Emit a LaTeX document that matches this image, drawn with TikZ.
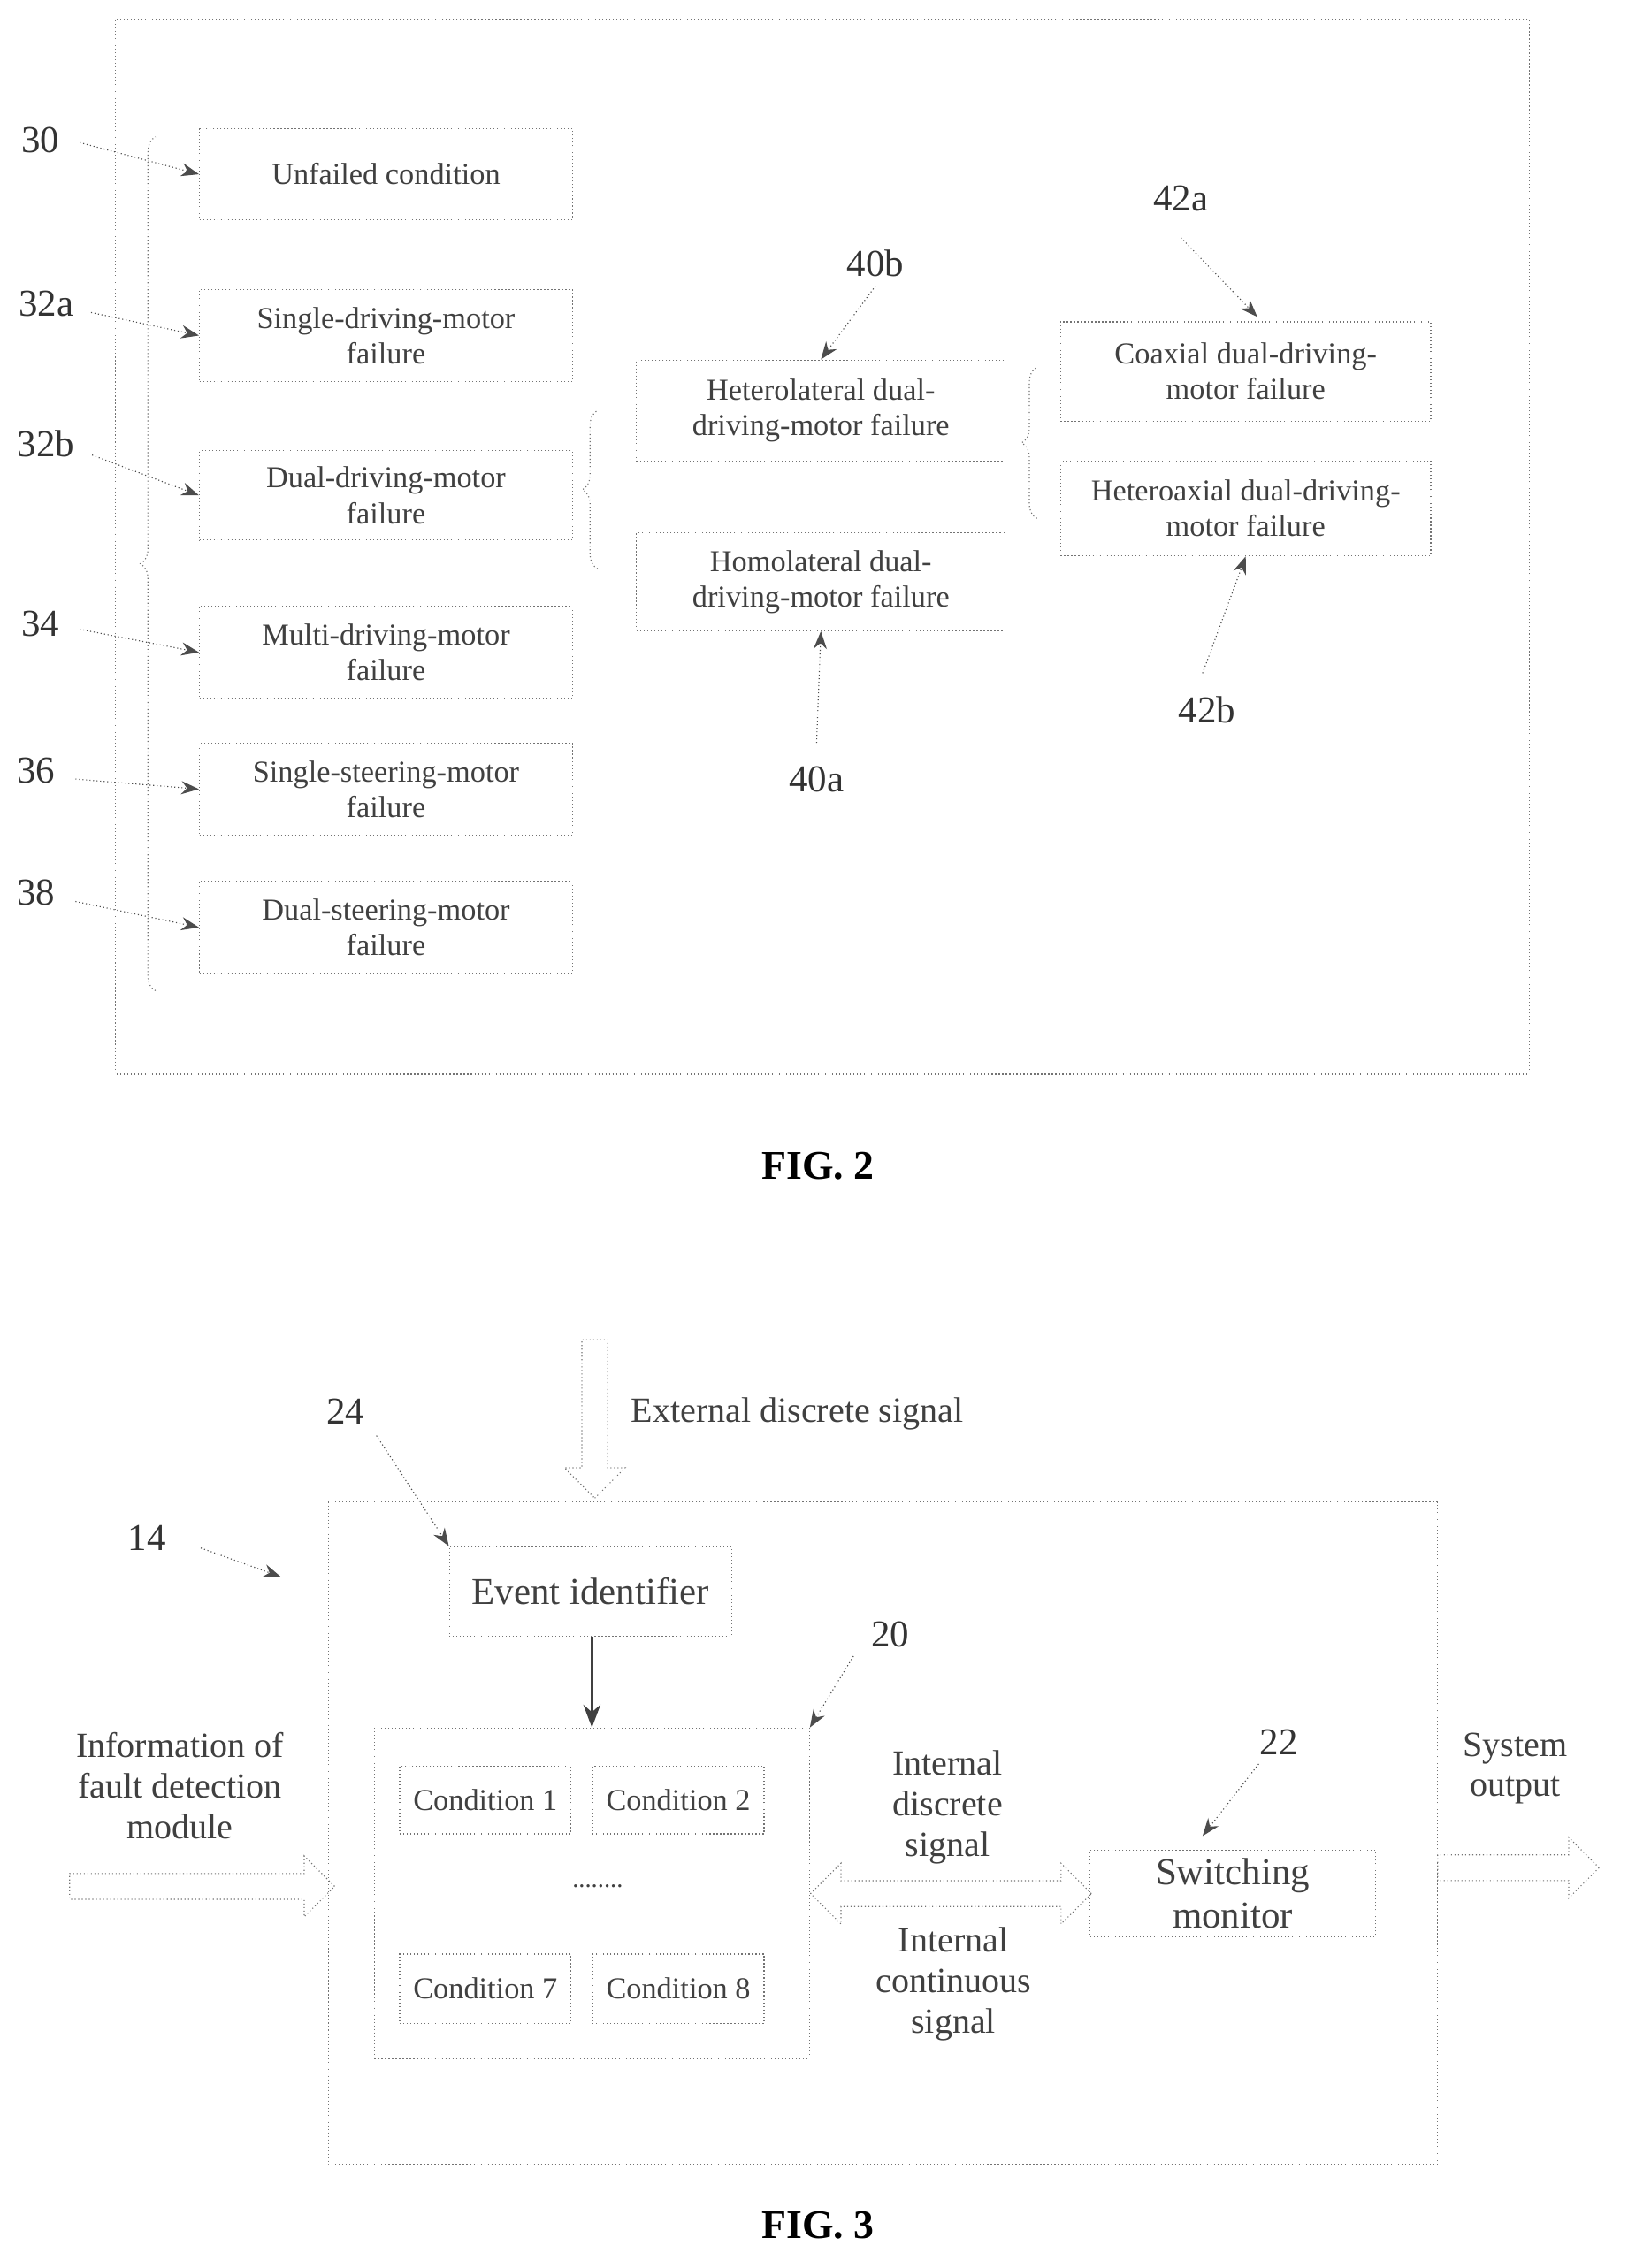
\documentclass[tikz,border=0pt]{standalone}
\usepackage{fontspec}
\setmainfont{Liberation Serif}
\usetikzlibrary{arrows.meta,decorations.pathreplacing,shapes.arrows}
\tikzset{
    box/.style = {draw=black!55, densely dotted, rectangle, align=center, text=black!75,
        font=\fontsize{12}{14}\selectfont, inner sep=0pt},
    num/.style = {font=\fontsize{15}{17}\selectfont, text=black!80},
    lead/.style = {draw=black!70, densely dotted, -{Stealth[length=7pt]}},
    brace/.style = {draw=black!55, densely dotted, decorate, decoration={brace,amplitude=6pt}},
    hollow/.style = {draw=black!55, densely dotted, single arrow, single arrow head extend=5pt,
        minimum width=24pt, inner xsep=0pt, inner ysep=3.5pt},
    label/.style = {align=center, text=black!75, font=\fontsize{14}{16}\selectfont}
}
\begin{document}
\begin{tikzpicture}[x=0.02cm,y=-0.02cm]
    \useasboundingbox (0,0) rectangle (1130,1575);
    % FIG. 2
    \draw[draw=black!55, densely dotted] (80,14) rectangle (1062,746);
    \node[box,minimum width=259*0.02cm,minimum height=63*0.02cm] (unf) at (268,121) {Unfailed condition};
    \node[box,minimum width=259*0.02cm,minimum height=64*0.02cm] (sdm) at (268,233) {Single-driving-motor\\failure};
    \node[box,minimum width=259*0.02cm,minimum height=62*0.02cm] (ddm) at (268,344) {Dual-driving-motor\\failure};
    \node[box,minimum width=259*0.02cm,minimum height=64*0.02cm] (mdm) at (268,453) {Multi-driving-motor\\failure};
    \node[box,minimum width=259*0.02cm,minimum height=64*0.02cm] (ssm) at (268,548) {Single-steering-motor\\failure};
    \node[box,minimum width=259*0.02cm,minimum height=64*0.02cm] (dsm) at (268,644) {Dual-steering-motor\\failure};
    \node[box,minimum width=256*0.02cm,minimum height=70*0.02cm] (het) at (570,285) {Heterolateral dual-\\driving-motor failure};
    \node[box,minimum width=256*0.02cm,minimum height=68*0.02cm] (hom) at (570,404) {Homolateral dual-\\driving-motor failure};
    \node[box,minimum width=257*0.02cm,minimum height=69*0.02cm] (cox) at (865,258) {Coaxial dual-driving-\\motor failure};
    \node[box,minimum width=257*0.02cm,minimum height=66*0.02cm] (hax) at (865,353) {Heteroaxial dual-driving-\\motor failure};
    \draw[brace] (108,688) -- (108,95);
    \draw[brace] (415,395) -- (415,285);
    \draw[brace] (720,360) -- (720,255);
    \node[num] (n30) at (28,97) {30};
    \node[num] (n32a) at (32,211) {32a};
    \node[num] (n32b) at (32,308) {32b};
    \node[num] (n34) at (28,433) {34};
    \node[num] (n36) at (25,535) {36};
    \node[num] (n38) at (25,620) {38};
    \node[num] (n40b) at (608,183) {40b};
    \node[num] (n40a) at (567,541) {40a};
    \node[num] (n42a) at (820,138) {42a};
    \node[num] (n42b) at (838,493) {42b};
    \draw[lead] (n30.east) ++(8,2) -- (unf.west);
    \draw[lead] (n32a.east) ++(6,6) -- (sdm.west);
    \draw[lead] (n32b.east) ++(6,8) -- (ddm.west);
    \draw[lead] (n34.east) ++(8,4) -- (mdm.west);
    \draw[lead] (n36.east) ++(8,6) -- (ssm.west);
    \draw[lead] (n38.east) ++(8,6) -- (dsm.west);
    \draw[lead] (n40b.south) -- (het.north);
    \draw[lead] (n40a.north) ++(0,-10) -- (hom.south);
    \draw[lead] (n42a.south) ++(0,12) -- (873,220);
    \draw[lead] (n42b.north) ++(-3,-10) -- (hax.south);
    \node[font=\bfseries\fontsize{16}{18}\selectfont] (fig2) at (568,810) {FIG. 2};
    % FIG. 3
    \draw[draw=black!55, densely dotted] (228,1043) rectangle (998,1503);
    \node[box,font=\fontsize{15}{17}\selectfont,minimum width=196*0.02cm,minimum height=62*0.02cm] (evt) at (410,1105) {Event identifier};
    \node[box,minimum width=302*0.02cm,minimum height=230*0.02cm] (cond) at (411,1315) {};
    \node[box,minimum width=119*0.02cm,minimum height=47*0.02cm] (c1) at (337,1250) {Condition 1};
    \node[box,minimum width=119*0.02cm,minimum height=47*0.02cm] (c2) at (471,1250) {Condition 2};
    \node[box,minimum width=119*0.02cm,minimum height=48*0.02cm] (c7) at (337,1381) {Condition 7};
    \node[box,minimum width=119*0.02cm,minimum height=48*0.02cm] (c8) at (471,1381) {Condition 8};
    \node[text=black!75] (dots) at (415,1310) {........};
    \node[box,font=\fontsize{15}{17}\selectfont,minimum width=198*0.02cm,minimum height=60*0.02cm] (sw) at (856,1315) {Switching\\monitor};
    \draw[-{Stealth[length=9pt]}, line width=1.2pt, black!75] (evt.south -| cond.north) -- (cond.north);
    \node[num] (n24) at (240,980) {24};
    \node[num] (n14) at (102,1068) {14};
    \node[num] (n20) at (618,1135) {20};
    \node[num] (n22) at (888,1210) {22};
    \draw[lead] (n24.south east) ++(2,2) -- (evt.north west);
    \draw[lead] (n14.east) ++(18,7) -- (195,1095);
    \draw[lead] (n20.south west) ++(-6,0) -- (cond.north east);
    \draw[lead] (n22.south) ++(-14,0) -- (835,1275);
    \coordinate (ext) at (413,930);
    \node[hollow, minimum height=110*0.02cm, rotate=-90, anchor=tail] (extarr) at (ext) {};
    \node[label, anchor=west] (extlbl) at (432,982) {External discrete signal};
    \node[hollow, double arrow, double arrow head extend=5pt, minimum height=195*0.02cm, anchor=west] (intarr) at (cond.east) {};
    \node[label] (intd) at (658,1255) {Internal\\discrete\\signal};
    \node[label] (intc) at (662,1378) {Internal\\continuous\\signal};
    \coordinate (inp) at (48,1310);
    \node[hollow, minimum height=184*0.02cm, anchor=tail] (inarr) at (inp) {};
    \node[label] (inlbl) at (125,1240) {Information of\\fault detection\\module};
    \coordinate (outp) at (998,1297);
    \node[hollow, minimum height=112*0.02cm, anchor=tail] (outarr) at (outp) {};
    \node[label] (outlbl) at (1052,1228) {System\\output};
    \node[font=\bfseries\fontsize{16}{18}\selectfont] (fig3) at (568,1545) {FIG. 3};
\end{tikzpicture}
\end{document}
